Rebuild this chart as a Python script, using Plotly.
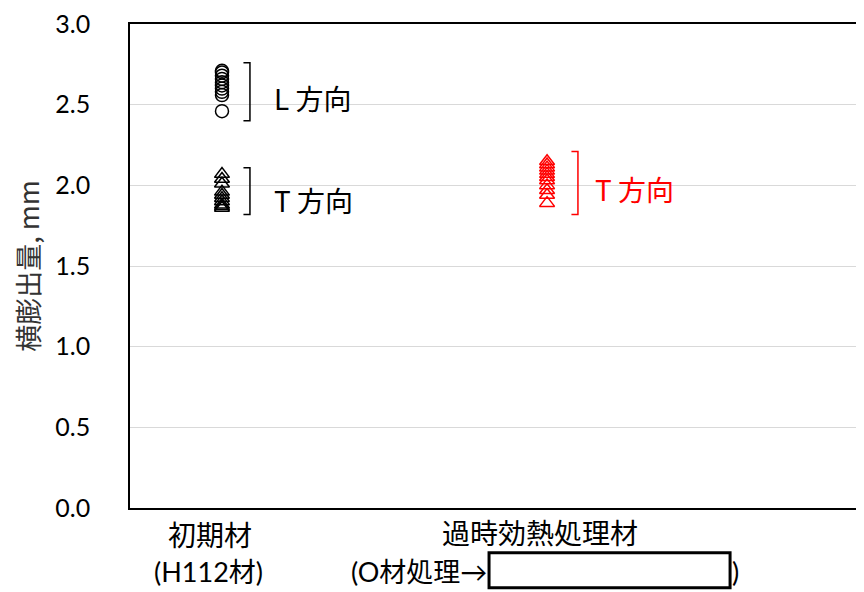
import plotly.graph_objects as go

# ---- data ----
categories = ["初期材", "過時効熱処理材"]
cat_pos = [1, 2]
initial_L = [2.71, 2.70, 2.68, 2.66, 2.64, 2.62, 2.60, 2.58, 2.56, 2.46]
initial_T = [2.07, 2.04, 2.01, 1.96, 1.94, 1.92, 1.90, 1.88, 1.87, 1.86]
aged_T = [2.15, 2.13, 2.11, 2.09, 2.07, 2.05, 2.03, 2.00, 1.97, 1.94, 1.89]
bracket_L = [2.40, 2.76]
bracket_T0 = [1.82, 2.11]
bracket_T1 = [1.82, 2.21]
y_ticks = [0.0, 0.5, 1.0, 1.5, 2.0, 2.5, 3.0]
y_ticklabels = ["0.0", "0.5", "1.0", "1.5", "2.0", "2.5", "3.0"]

FONT = "Lato, Noto Sans CJK JP, sans-serif"
JP = "Noto Sans CJK JP, sans-serif"

fig = go.Figure()
fig.add_trace(go.Scatter(x=[cat_pos[0]] * len(initial_L), y=initial_L, mode="markers",
                         marker=dict(symbol="circle-open", size=13, color="black",
                                     line=dict(width=1.5, color="black")),
                         showlegend=False))
fig.add_trace(go.Scatter(x=[cat_pos[0]] * len(initial_T), y=initial_T, mode="markers",
                         marker=dict(symbol="triangle-up-open", size=13, color="black",
                                     line=dict(width=1.5, color="black")),
                         showlegend=False))
fig.add_trace(go.Scatter(x=[cat_pos[1]] * len(aged_T), y=aged_T, mode="markers",
                         marker=dict(symbol="triangle-up-open", size=13, color="#ff0000",
                                     line=dict(width=1.5, color="#ff0000")),
                         showlegend=False))

shapes = []
def bracket(xc, lo, hi, color):
    xl = xc - 0.02
    return dict(type="path", xref="x", yref="y",
                path=f"M {xl} {hi} L {xc} {hi} L {xc} {lo} L {xl} {lo}",
                line=dict(color=color, width=1.5))
shapes.append(bracket(cat_pos[0] + 0.086, *bracket_L, "black"))
shapes.append(bracket(cat_pos[0] + 0.086, *bracket_T0, "black"))
shapes.append(bracket(cat_pos[1] + 0.095, *bracket_T1, "#ff0000"))
# box in the x label
shapes.append(dict(type="rect", xref="x", yref="paper", x0=1.8215, x1=2.563,
                   y0=-0.1646, y1=-0.0926, line=dict(color="black", width=3),
                   fillcolor="white"))

annotations = [
    dict(x=cat_pos[0] + 0.154, y=2.54, xref="x", yref="y", text="L 方向", showarrow=False,
         xanchor="left", yanchor="middle", font=dict(size=28, color="black", family=JP)),
    dict(x=cat_pos[0] + 0.154, y=1.91, xref="x", yref="y", text="T 方向", showarrow=False,
         xanchor="left", yanchor="middle", font=dict(size=28, color="black", family=JP)),
    dict(x=cat_pos[1] + 0.142, y=1.975, xref="x", yref="y", text="T 方向", showarrow=False,
         xanchor="left", yanchor="middle", font=dict(size=28, color="#ff0000", family=JP)),
    dict(x=0.963, y=-0.053, xref="x", yref="paper", text=categories[0], showarrow=False,
         xanchor="center", yanchor="middle", font=dict(size=28, color="black", family=JP)),
    dict(x=0.957, y=-0.132, xref="x", yref="paper", text="(H112材)", showarrow=False,
         xanchor="center", yanchor="middle", font=dict(size=27, color="black", family=FONT)),
    dict(x=1.978, y=-0.049, xref="x", yref="paper", text=categories[1], showarrow=False,
         xanchor="center", yanchor="middle", font=dict(size=28, color="black", family=JP)),
    dict(x=1.821, y=-0.132, xref="x", yref="paper", text="(O材処理→", showarrow=False,
         xanchor="right", yanchor="middle", font=dict(size=27, color="black", family=FONT)),
    dict(x=2.563, y=-0.132, xref="x", yref="paper", text=")", showarrow=False,
         xanchor="left", yanchor="middle", font=dict(size=27, color="black", family=FONT)),
]

# the page body has an 8px margin, so the figure is sized to fill the rest of the window
fig.update_layout(
    width=856, height=584,
    margin=dict(l=122, r=0, t=14, b=84),
    paper_bgcolor="white", plot_bgcolor="white",
    shapes=shapes, annotations=annotations,
    font=dict(family=FONT, size=25, color="black"),
    xaxis=dict(range=[0.717, 2.975], showticklabels=False, showgrid=False, zeroline=False,
               showline=True, linecolor="black", linewidth=1.5, mirror=True, ticks=""),
    yaxis=dict(range=[0, 3.0005], tickvals=y_ticks, ticktext=y_ticklabels,
               showgrid=True, gridcolor="#d9d9d9", gridwidth=1, zeroline=False,
               showline=True, linecolor="black", linewidth=1.5, ticks="",
               ticklabelstandoff=33, ticklabeloverflow="allow",
               tickfont=dict(size=25, family=FONT),
               title=dict(text="横膨出量, mm", standoff=14,
                          font=dict(size=27, family=JP, color="#333333"))),
)

fig.write_html("out.html")
